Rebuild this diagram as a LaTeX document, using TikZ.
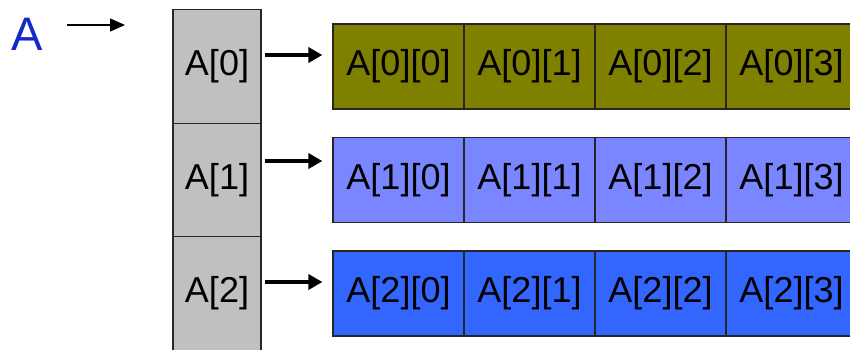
\documentclass[tikz,border=0pt]{standalone}
\usepackage{fontspec}
\setmainfont{Liberation Sans}
\usetikzlibrary{arrows.meta}
\definecolor{cellgray}{RGB}{192,192,192}
\definecolor{rowolive}{RGB}{128,128,0}
\definecolor{rowlight}{RGB}{122,134,255}
\definecolor{rowblue}{RGB}{51,102,255}
\definecolor{labelblue}{RGB}{20,40,200}
\tikzset{
  ptrcell/.style={draw=black!85, line width=1.2pt, fill=cellgray, minimum width=88pt,
    minimum height=113.5pt, inner sep=0pt, font=\fontsize{36}{40}\selectfont},
  elemcell/.style={draw=black!85, line width=1.2pt, minimum width=131pt,
    minimum height=85pt, inner sep=0pt, font=\fontsize{36}{40}\selectfont},
  ptrarrow/.style={line width=3.5pt, -{Triangle[length=14pt,width=15pt]},
    shorten <=3pt, shorten >=10pt},
  namearrow/.style={line width=1.4pt, -{Triangle[length=15pt,width=13pt]}}
}
\begin{document}
\begin{tikzpicture}[x=1pt,y=-1pt]
  \useasboundingbox (0,0) rectangle (850,349);
  \clip (0,0) rectangle (850,349);

  % array name and its pointer
  \node[text=labelblue, font=\fontsize{47}{50}\selectfont, inner sep=0pt] (name) at (27.5,34) {A};
  \coordinate (nstart) at (67,25);
  \coordinate (nend) at (125,25);
  \draw[namearrow] (nstart) -- (nend);

  % column of row pointers
  \node[ptrcell] (g0) at (217,66.5) {A[0]};
  \node[ptrcell] (g1) at (217,180) {A[1]};
  \node[ptrcell] (g2) at (217,293.5) {A[2]};

  % rows of elements
  \foreach \r/\y/\c in {0/66.5/rowolive, 1/180/rowlight, 2/293.5/rowblue}{
    \foreach \k/\x in {0/398.5, 1/529.5, 2/660.5, 3/791.5}{
      \node[elemcell, fill=\c] (r\r\k) at (\x,\y) {A[\r][\k]};
    }
  }

  % pointers from the column to each row
  \draw[ptrarrow] ([yshift=11.5pt]g0.east) -- ([yshift=11.5pt]r00.west);
  \draw[ptrarrow] ([yshift=19pt]g1.east) -- ([yshift=19pt]r10.west);
  \draw[ptrarrow] ([yshift=11.5pt]g2.east) -- ([yshift=11.5pt]r20.west);
\end{tikzpicture}
\end{document}
